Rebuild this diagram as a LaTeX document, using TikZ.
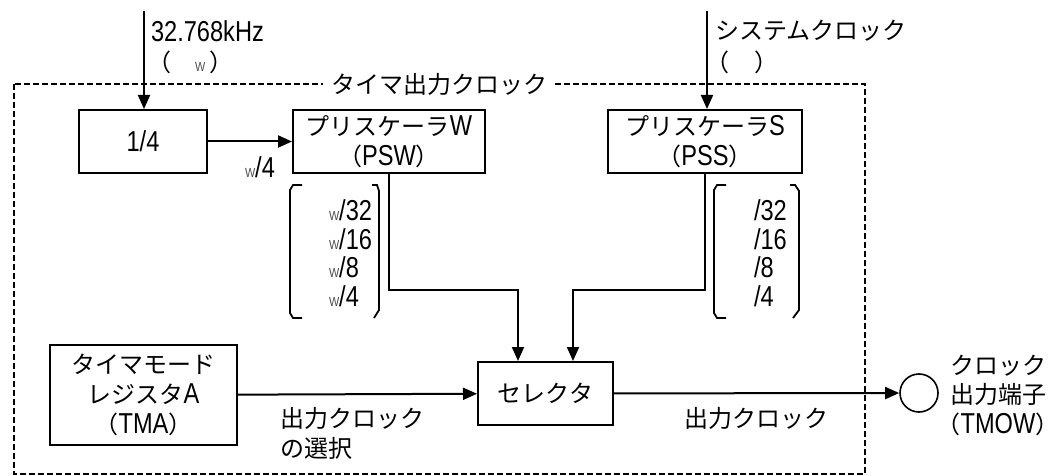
\documentclass[tikz,border=0pt]{standalone}
\usepackage{fontspec}
\setmainfont{Noto Sans CJK JP}
\newfontfamily\lat[FakeStretch=0.82,Scale=1.2]{Liberation Sans}
\usetikzlibrary{arrows.meta}
\begin{document}
\begin{tikzpicture}[x=1pt,y=-1pt,
  font=\fontsize{24}{30}\selectfont,
  line width=2pt,
  >={Triangle[length=14pt,width=12pt]},
  blk/.style={draw, line width=2pt, inner sep=0pt, align=center},
  txt/.style={inner sep=0pt, align=left},
  frame/.style={line width=1.6pt, dash pattern=on 6pt off 3pt},
  brk/.style={line width=1.8pt}]
\useasboundingbox (0,0) rectangle (1058,476);
\newcommand{\sw}{{\fontsize{11}{11}\selectfont\color{black!70}\lat W}}
% frame
\draw[frame] (14,84) rectangle (865,474);
\node[fill=white, inner xsep=8pt, inner ysep=0pt] (title) at (439,84) {タイマ出力クロック};
% boxes
\node[blk, minimum width=128pt, minimum height=63pt] (div) at (143,141.5) {\lat 1/4};
\node[blk, minimum width=192pt, minimum height=63pt] (psw) at (389,141.5)
  {プリスケーラ{\lat W}\\（{\lat PSW}）};
\node[blk, minimum width=194pt, minimum height=63pt] (pss) at (705,141.5)
  {プリスケーラ{\lat S}\\（{\lat PSS}）};
\node[blk, minimum width=135pt, minimum height=63pt] (sel) at (545.5,393.5) {セレクタ};
\node[blk, minimum width=187pt, minimum height=100pt, font=\fontsize{24}{30}\selectfont] (tma) at (143.5,395)
  {タイマモード\\レジスタ{\lat A}\\（{\lat TMA}）};
\node[draw, circle, line width=1.6pt, minimum size=38pt, inner sep=0pt] (pin) at (919,393) {};
% inputs
\coordinate (in1) at (144,11);
\coordinate (in2) at (707,11);
\draw[->] (in1) -- (in1 |- div.north);
\draw[->] (in2) -- (in2 |- pss.north);
\node[txt, anchor=west] (lf) at (150,31) {\lat 32.768kHz};
\node[txt, anchor=west] (lfw) at (146,62) {（\hspace{24pt}\sw\hspace{4pt}）};
\node[txt, anchor=west] (ls) at (714,31) {システムクロック};
\node[txt, anchor=west] (lsp) at (704,62) {（\hspace{26pt}）};
% connections
\draw[->] (div) -- (psw);
\node[txt, anchor=west] (lw4) at (244,167) {\sw\lat /4};
\coordinate (j1) at (518,290);
\coordinate (j2) at (573,290);
\draw[->] (psw.south) |- (j1) -- (j1 |- sel.north);
\draw[->] (pss.south) |- (j2) -- (j2 |- sel.north);
\draw[->] (tma) -- (sel);
\draw[->] (sel) -- (pin);
% labels
\node[txt, anchor=west] (lsel) at (279,433) {出力クロック\\の選択};
\node[txt, anchor=west] (lout) at (683,418) {出力クロック};
\node[txt, align=center, font=\fontsize{24}{29.5}\selectfont] (lpin) at (998,395) {クロック\\出力端子\\（{\lat TMOW}）};
% PSW bracket
\draw[brk] (302,185) -- (293,185) -- (290,190) -- (290,313) -- (293,318) -- (302,318);
\draw[brk] (372,185) -- (377,185) -- (379,191) -- (379,310) -- (374,318);
\node[txt, anchor=west] (w32) at (328,210) {\sw\lat /32};
\node[txt, anchor=west] (w16) at (328,239) {\sw\lat /16};
\node[txt, anchor=west] (w8) at (328,267) {\sw\lat /8};
\node[txt, anchor=west] (w4) at (328,296) {\sw\lat /4};
% PSS bracket
\draw[brk] (726,185) -- (717,185) -- (714,190) -- (714,313) -- (717,318) -- (726,318);
\draw[brk] (790,185) -- (795,185) -- (799,191) -- (799,310) -- (793,318);
\node[txt, anchor=west] (s32) at (753,210) {\lat /32};
\node[txt, anchor=west] (s16) at (753,239) {\lat /16};
\node[txt, anchor=west] (s8) at (753,267) {\lat /8};
\node[txt, anchor=west] (s4) at (753,296) {\lat /4};
\end{tikzpicture}
\end{document}
